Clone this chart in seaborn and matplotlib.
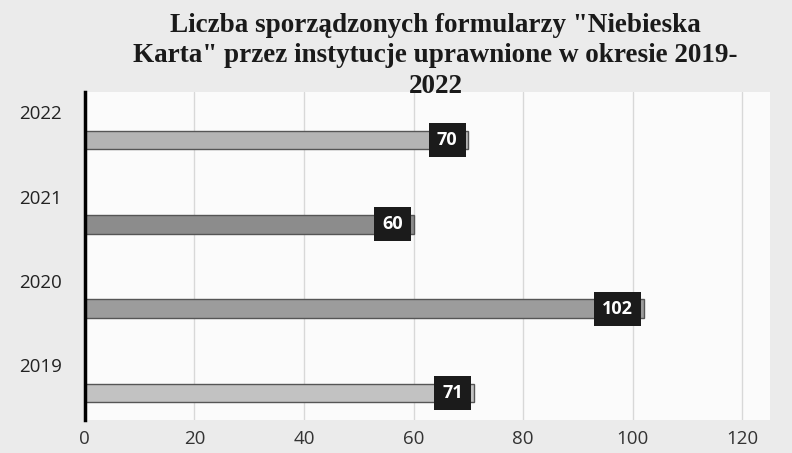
import matplotlib
matplotlib.use("Agg")
import matplotlib.pyplot as plt
import seaborn as sns
import pandas as pd

# Data
years = ["2022", "2021", "2020", "2019"]
counts = [70, 60, 102, 71]
bar_colors = ["#b4b4b4", "#8c8c8c", "#9c9c9c", "#c2c2c2"]
x_ticks = [0, 20, 40, 60, 80, 100, 120]
title = 'Liczba sporządzonych formularzy "Niebieska\nKarta" przez instytucje uprawnione w okresie 2019-\n2022'

df = pd.DataFrame({"year": years, "count": counts})

sns.set_style("white")
plt.rcParams["font.family"] = ["Open Sans", "DejaVu Sans"]

fig = plt.figure(figsize=(7.92, 4.53), dpi=100, facecolor="#ebebeb")
ax = fig.add_axes([0.107, 0.073, 0.865, 0.724])
ax.set_facecolor("#fbfbfb")

sns.barplot(data=df, x="count", y="year", hue="year", order=years,
            palette=dict(zip(years, bar_colors)), legend=False,
            width=0.22, edgecolor="#555555", linewidth=1.0, ax=ax)

# value labels in black boxes
for i, v in enumerate(counts):
    ax.text(v - 2.0, i, str(v), ha="right", va="center", color="white",
            fontsize=13, fontweight="bold",
            bbox=dict(boxstyle="square,pad=0.45", fc="#1b1b1b", ec="none"))

ax.set_xlim(0, 125)
ax.set_ylim(3.32, -0.57)
ax.set_xticks(x_ticks)
ax.set_xticklabels([str(t) for t in x_ticks], fontsize=13.5, color="#333333")
ax.set_yticks([i - 0.33 for i in range(len(years))])
ax.set_yticklabels(years, fontsize=13.5, color="#222222", ha="left")
ax.tick_params(axis="y", length=0, pad=47)
ax.tick_params(axis="x", length=0, pad=7)
ax.set_xlabel("")
ax.set_ylabel("")

ax.grid(axis="x", color="#d8d8d8", linewidth=1)
ax.set_axisbelow(True)
for s in ["top", "right", "bottom"]:
    ax.spines[s].set_visible(False)
ax.spines["left"].set_color("black")
ax.spines["left"].set_linewidth(2.5)

fig.text(0.55, 0.972, title, ha="center", va="top", fontsize=19.5,
         fontweight="bold", family="Liberation Serif", color="#1a1a1a",
         linespacing=1.3, zorder=5)

fig.savefig("out.png", dpi=100, facecolor=fig.get_facecolor())
